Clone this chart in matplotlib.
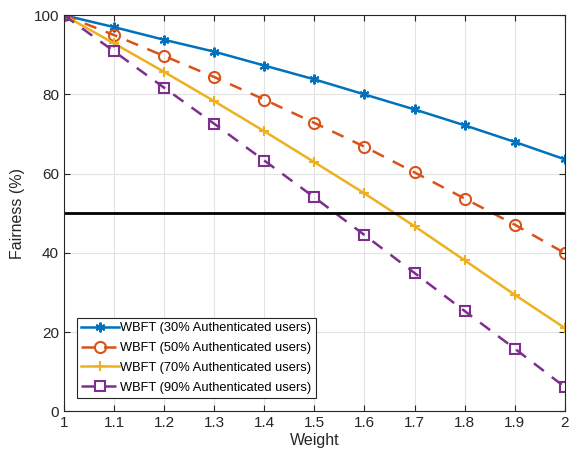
import numpy as np
import matplotlib
matplotlib.use('Agg')
import matplotlib.pyplot as plt

plt.rcParams['font.family'] = ['Liberation Sans', 'DejaVu Sans']

weights = [1.0, 1.1, 1.2, 1.3, 1.4, 1.5, 1.6, 1.7, 1.8, 1.9, 2.0]
fair_30 = [100, 97.0, 93.8, 90.8, 87.3, 83.8, 80.0, 76.2, 72.2, 68.0, 63.6]
fair_50 = [100, 95.0, 89.7, 84.4, 78.7, 72.8, 66.8, 60.3, 53.7, 47.1, 39.9]
fair_70 = [100, 92.9, 85.7, 78.3, 70.7, 62.9, 55.0, 46.7, 38.1, 29.4, 21.0]
fair_90 = [100, 90.9, 81.7, 72.6, 63.3, 54.0, 44.5, 34.9, 25.3, 15.8, 6.1]
threshold = 50

series = [
    ('WBFT (30% Authenticated users)', fair_30, '#0072BD', '-', (6, 2, 0), 'full'),
    ('WBFT (50% Authenticated users)', fair_50, '#D95319', '--', 'o', 'none'),
    ('WBFT (70% Authenticated users)', fair_70, '#EDB120', '-', '+', 'full'),
    ('WBFT (90% Authenticated users)', fair_90, '#7E2F8E', '--', 's', 'none'),
]

fig = plt.figure(figsize=(5.7, 4.61), dpi=100)
ax = fig.add_axes([0.112, 0.108, 0.879, 0.859])

for label, ys, color, ls, marker, fill in series:
    ax.plot(weights, ys, color=color, linestyle=ls, linewidth=1.8,
            marker=marker, markersize=8 if marker == 'o' else 7,
            markerfacecolor=color if fill == 'full' else 'none',
            markeredgecolor=color, markeredgewidth=1.5,
            dashes=(5, 4) if ls == '--' else (None, None),
            label=label)

ax.axhline(threshold, color='black', linewidth=2)

ax.set_xlim(1, 2)
ax.set_ylim(0, 100)
ax.set_xticks(weights)
ax.set_xticklabels(['1', '1.1', '1.2', '1.3', '1.4', '1.5', '1.6', '1.7', '1.8', '1.9', '2'])
ax.set_yticks([0, 20, 40, 60, 80, 100])
ax.tick_params(direction='in', labelsize=11, top=True, right=True, length=4,
               color='#262626', labelcolor='#262626')
ax.grid(True, color='#e3e3e3', linewidth=0.8)
ax.set_axisbelow(True)
for s in ax.spines.values():
    s.set_color('#262626')
    s.set_linewidth(0.8)

ax.set_xlabel('Weight', fontsize=11.5, color='#262626', labelpad=2)
ax.set_ylabel('Fairness (%)', fontsize=11.5, color='#262626', labelpad=6)

leg = ax.legend(loc='lower left', fontsize=9.3, handlelength=2.9, handletextpad=0.1,
                borderaxespad=1.0, borderpad=0.35, labelspacing=0.6,
                fancybox=False, edgecolor='#262626', framealpha=1)
leg.get_frame().set_linewidth(0.8)

fig.savefig('out.png', dpi=100)
